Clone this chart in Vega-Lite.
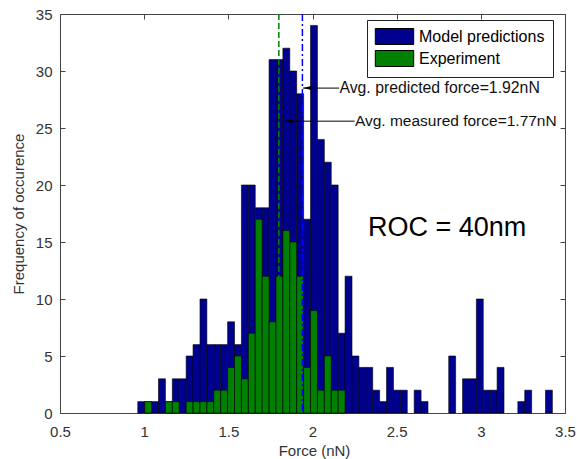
{
  "$schema": "https://vega.github.io/schema/vega-lite/v6.json",
  "width": 505,
  "height": 399,
  "autosize": "none",
  "padding": {"left": 60, "top": 14, "right": 12, "bottom": 46},
  "background": "white",
  "config": {
    "font": "Liberation Sans",
    "view": {"stroke": "#444", "strokeWidth": 1},
    "axis": {"grid": false, "domain": false, "tickColor": "#444", "tickSize": -5, "labelFont": "Liberation Sans", "labelFontSize": 15, "labelColor": "#333", "titleFont": "Liberation Sans", "titleFontSize": 15, "titleFontWeight": "normal", "titleColor": "#333", "labelFlush": false, "labelOverlap": false}
  },
  "datasets": {
    "hist": [
      {"lo": 0.9620, "hi": 1.0031, "series": "Model predictions", "count": 1},
      {"lo": 1.0031, "hi": 1.0441, "series": "Model predictions", "count": 1},
      {"lo": 1.0441, "hi": 1.0852, "series": "Model predictions", "count": 1},
      {"lo": 1.0852, "hi": 1.1262, "series": "Model predictions", "count": 3},
      {"lo": 1.1262, "hi": 1.1673, "series": "Model predictions", "count": 1},
      {"lo": 1.1673, "hi": 1.2083, "series": "Model predictions", "count": 3},
      {"lo": 1.2083, "hi": 1.2494, "series": "Model predictions", "count": 3},
      {"lo": 1.2494, "hi": 1.2904, "series": "Model predictions", "count": 5},
      {"lo": 1.2904, "hi": 1.3315, "series": "Model predictions", "count": 6},
      {"lo": 1.3315, "hi": 1.3725, "series": "Model predictions", "count": 10},
      {"lo": 1.3725, "hi": 1.4136, "series": "Model predictions", "count": 6},
      {"lo": 1.4136, "hi": 1.4546, "series": "Model predictions", "count": 6},
      {"lo": 1.4546, "hi": 1.4957, "series": "Model predictions", "count": 6},
      {"lo": 1.4957, "hi": 1.5367, "series": "Model predictions", "count": 8},
      {"lo": 1.5367, "hi": 1.5778, "series": "Model predictions", "count": 6},
      {"lo": 1.5778, "hi": 1.6188, "series": "Model predictions", "count": 20},
      {"lo": 1.6188, "hi": 1.6599, "series": "Model predictions", "count": 20},
      {"lo": 1.6599, "hi": 1.7009, "series": "Model predictions", "count": 18},
      {"lo": 1.7009, "hi": 1.7420, "series": "Model predictions", "count": 18},
      {"lo": 1.7420, "hi": 1.7830, "series": "Model predictions", "count": 31},
      {"lo": 1.7830, "hi": 1.8241, "series": "Model predictions", "count": 31},
      {"lo": 1.8241, "hi": 1.8651, "series": "Model predictions", "count": 32},
      {"lo": 1.8651, "hi": 1.9062, "series": "Model predictions", "count": 30},
      {"lo": 1.9062, "hi": 1.9472, "series": "Model predictions", "count": 28},
      {"lo": 1.9472, "hi": 1.9883, "series": "Model predictions", "count": 17},
      {"lo": 1.9883, "hi": 2.0293, "series": "Model predictions", "count": 34},
      {"lo": 2.0293, "hi": 2.0704, "series": "Model predictions", "count": 24},
      {"lo": 2.0704, "hi": 2.1114, "series": "Model predictions", "count": 22},
      {"lo": 2.1114, "hi": 2.1525, "series": "Model predictions", "count": 20},
      {"lo": 2.1525, "hi": 2.1935, "series": "Model predictions", "count": 7},
      {"lo": 2.1935, "hi": 2.2346, "series": "Model predictions", "count": 12},
      {"lo": 2.2346, "hi": 2.2756, "series": "Model predictions", "count": 5},
      {"lo": 2.2756, "hi": 2.3167, "series": "Model predictions", "count": 4},
      {"lo": 2.3167, "hi": 2.3577, "series": "Model predictions", "count": 4},
      {"lo": 2.3577, "hi": 2.3988, "series": "Model predictions", "count": 2},
      {"lo": 2.3988, "hi": 2.4398, "series": "Model predictions", "count": 1},
      {"lo": 2.4398, "hi": 2.4809, "series": "Model predictions", "count": 4},
      {"lo": 2.4809, "hi": 2.5219, "series": "Model predictions", "count": 2},
      {"lo": 2.5219, "hi": 2.5630, "series": "Model predictions", "count": 2},
      {"lo": 2.6040, "hi": 2.6451, "series": "Model predictions", "count": 2},
      {"lo": 2.6451, "hi": 2.6861, "series": "Model predictions", "count": 1},
      {"lo": 2.8093, "hi": 2.8503, "series": "Model predictions", "count": 5},
      {"lo": 2.8914, "hi": 2.9324, "series": "Model predictions", "count": 3},
      {"lo": 2.9324, "hi": 2.9735, "series": "Model predictions", "count": 3},
      {"lo": 2.9735, "hi": 3.0145, "series": "Model predictions", "count": 10},
      {"lo": 3.0145, "hi": 3.0556, "series": "Model predictions", "count": 2},
      {"lo": 3.0556, "hi": 3.0966, "series": "Model predictions", "count": 2},
      {"lo": 3.0966, "hi": 3.1377, "series": "Model predictions", "count": 4},
      {"lo": 3.2198, "hi": 3.2608, "series": "Model predictions", "count": 1},
      {"lo": 3.2608, "hi": 3.3019, "series": "Model predictions", "count": 2},
      {"lo": 3.3840, "hi": 3.4250, "series": "Model predictions", "count": 2},
      {"lo": 1.0031, "hi": 1.0441, "series": "Experiment", "count": 1},
      {"lo": 1.1262, "hi": 1.1673, "series": "Experiment", "count": 1},
      {"lo": 1.1673, "hi": 1.2083, "series": "Experiment", "count": 1},
      {"lo": 1.2494, "hi": 1.2904, "series": "Experiment", "count": 1},
      {"lo": 1.2904, "hi": 1.3315, "series": "Experiment", "count": 1},
      {"lo": 1.3315, "hi": 1.3725, "series": "Experiment", "count": 1},
      {"lo": 1.3725, "hi": 1.4136, "series": "Experiment", "count": 1},
      {"lo": 1.4136, "hi": 1.4546, "series": "Experiment", "count": 2},
      {"lo": 1.4546, "hi": 1.4957, "series": "Experiment", "count": 2},
      {"lo": 1.4957, "hi": 1.5367, "series": "Experiment", "count": 4},
      {"lo": 1.5367, "hi": 1.5778, "series": "Experiment", "count": 5},
      {"lo": 1.5778, "hi": 1.6188, "series": "Experiment", "count": 3},
      {"lo": 1.6188, "hi": 1.6599, "series": "Experiment", "count": 7},
      {"lo": 1.6599, "hi": 1.7009, "series": "Experiment", "count": 17},
      {"lo": 1.7009, "hi": 1.7420, "series": "Experiment", "count": 12},
      {"lo": 1.7420, "hi": 1.7830, "series": "Experiment", "count": 8},
      {"lo": 1.7830, "hi": 1.8241, "series": "Experiment", "count": 12},
      {"lo": 1.8241, "hi": 1.8651, "series": "Experiment", "count": 16},
      {"lo": 1.8651, "hi": 1.9062, "series": "Experiment", "count": 15},
      {"lo": 1.9062, "hi": 1.9472, "series": "Experiment", "count": 12},
      {"lo": 1.9472, "hi": 1.9883, "series": "Experiment", "count": 4},
      {"lo": 1.9883, "hi": 2.0293, "series": "Experiment", "count": 9},
      {"lo": 2.0293, "hi": 2.0704, "series": "Experiment", "count": 2},
      {"lo": 2.0704, "hi": 2.1114, "series": "Experiment", "count": 5},
      {"lo": 2.1114, "hi": 2.1525, "series": "Experiment", "count": 2},
      {"lo": 2.1525, "hi": 2.1935, "series": "Experiment", "count": 2}
    ]
  },
  "layer": [
    {
      "data": {"name": "hist"},
      "mark": {"type": "rect", "stroke": "black", "strokeWidth": 0.6, "opacity": 1},
      "encoding": {
        "x": {"field": "lo", "type": "quantitative", "scale": {"domain": [0.5, 3.5], "nice": false, "zero": false},
              "axis": {"orient": "bottom", "values": [0.5, 1, 1.5, 2, 2.5, 3, 3.5], "format": "~g", "labelPadding": 16, "title": "Force (nN)", "titleX": 254, "titleY": 37, "titleBaseline": "middle"}},
        "x2": {"field": "hi"},
        "y": {"field": "count", "type": "quantitative", "stack": null, "scale": {"domain": [0, 35], "nice": false},
              "axis": {"orient": "left", "values": [0, 5, 10, 15, 20, 25, 30, 35], "labelPadding": 13, "title": "Frequency of occurence", "titleX": -42, "titleY": 199.5, "titleBaseline": "middle", "titleAngle": -90}},
        "y2": {"datum": 0},
        "color": {"field": "series", "type": "nominal",
                  "scale": {"domain": ["Model predictions", "Experiment"], "range": ["#00008F", "#008000"]},
                  "legend": {"title": null, "orient": "none", "legendX": 307, "legendY": 6, "direction": "vertical", "strokeColor": "#222", "fillColor": "white", "padding": 8, "symbolType": "M-2.4,-1H2.4V1H-2.4Z", "symbolSize": 256, "symbolStrokeColor": "black", "symbolStrokeWidth": 1, "symbolOffset": 11, "labelOffset": 16, "labelFont": "Liberation Sans", "labelFontSize": 16, "labelColor": "black", "rowPadding": 1, "labelLimit": 300}}
      }
    },
    {
      "data": {"values": [{"avg": 1.80}]},
      "mark": {"type": "rule", "color": "#008000", "strokeDash": [6, 3], "strokeWidth": 1.5},
      "encoding": {
        "x": {"field": "avg", "type": "quantitative", "scale": {"domain": [0.5, 3.5], "nice": false, "zero": false},
              "axis": {"orient": "top", "values": [0.5, 1, 1.5, 2, 2.5, 3, 3.5], "labels": false, "title": null}}
      }
    },
    {
      "data": {"values": [{"avg": 1.94}]},
      "mark": {"type": "rule", "color": "#0000FF", "strokeDash": [7, 3, 2, 3], "strokeWidth": 1.5},
      "encoding": {
        "x": {"field": "avg", "type": "quantitative", "axis": null}
      }
    },
    {
      "data": {"values": [{}]},
      "mark": {"type": "rule", "color": "black", "strokeWidth": 1},
      "encoding": {
        "x": {"datum": 1.944, "type": "quantitative", "axis": null},
        "x2": {"datum": 2.158},
        "y": {"datum": 28.5, "type": "quantitative", "axis": null}
      }
    },
    {
      "data": {"values": [{}]},
      "mark": {"type": "rule", "color": "black", "strokeWidth": 1},
      "encoding": {
        "x": {"datum": 1.835, "type": "quantitative", "axis": null},
        "x2": {"datum": 2.25},
        "y": {"datum": 25.6, "type": "quantitative", "axis": null}
      }
    },
    {
      "data": {"values": [{}]},
      "mark": {"type": "point", "shape": "M-1,0L1,-0.5L1,0.5Z", "filled": true, "color": "black", "size": 64, "opacity": 1},
      "encoding": {
        "x": {"datum": 1.968, "type": "quantitative", "axis": null},
        "y": {"datum": 28.5, "type": "quantitative", "axis": null}
      }
    },
    {
      "data": {"values": [{}]},
      "mark": {"type": "point", "shape": "M-1,0L1,-0.5L1,0.5Z", "filled": true, "color": "black", "size": 64, "opacity": 1},
      "encoding": {
        "x": {"datum": 1.859, "type": "quantitative", "axis": null},
        "y": {"datum": 25.6, "type": "quantitative", "axis": null}
      }
    },
    {
      "data": {"values": [{}]},
      "mark": {"type": "text", "text": "Avg. predicted force=1.92nN", "align": "left", "baseline": "middle", "font": "Liberation Sans", "fontSize": 15.8, "color": "#111"},
      "encoding": {
        "x": {"datum": 2.16, "type": "quantitative", "axis": null},
        "y": {"datum": 28.5, "type": "quantitative", "axis": null}
      }
    },
    {
      "data": {"values": [{}]},
      "mark": {"type": "text", "text": "Avg. measured force=1.77nN", "align": "left", "baseline": "middle", "font": "Liberation Sans", "fontSize": 15.5, "color": "#111"},
      "encoding": {
        "x": {"datum": 2.252, "type": "quantitative", "axis": null},
        "y": {"datum": 25.6, "type": "quantitative", "axis": null}
      }
    },
    {
      "data": {"values": [{}]},
      "mark": {"type": "text", "text": "ROC = 40nm", "align": "left", "baseline": "middle", "font": "Liberation Sans", "fontSize": 27, "color": "black"},
      "encoding": {
        "x": {"datum": 2.33, "type": "quantitative", "axis": null},
        "y": {"datum": 16.2, "type": "quantitative", "scale": {"domain": [0, 35], "nice": false},
              "axis": {"orient": "right", "values": [0, 5, 10, 15, 20, 25, 30, 35], "labels": false, "title": null}}
      }
    }
  ],
  "resolve": {"axis": {"x": "independent", "y": "independent"}}
}
